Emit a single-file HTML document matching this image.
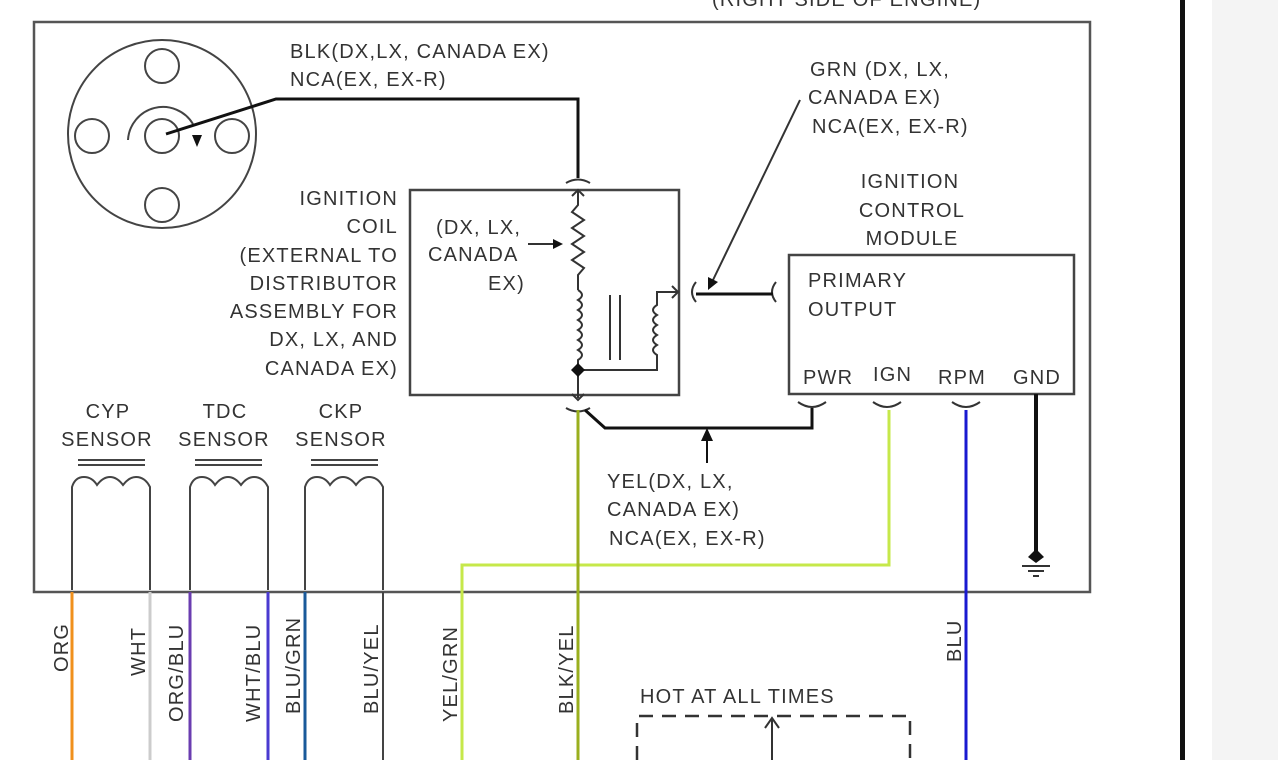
<!DOCTYPE html>
<html><head><meta charset="utf-8"><style>
html,body{margin:0;padding:0;background:#fff;}
svg{display:block;}
text{font-family:"Liberation Sans",sans-serif;font-size:20px;fill:#333;letter-spacing:1.2px;}
</style></head><body>
<svg width="1278" height="760" viewBox="0 0 1278 760">
<rect x="0" y="0" width="1278" height="760" fill="#fff"/>
<rect x="1212" y="0" width="66" height="760" fill="#f4f4f4"/>
<rect x="1180" y="0" width="5" height="760" fill="#111"/>
<text x="712" y="6">(RIGHT SIDE OF ENGINE)</text>
<rect x="34" y="22" width="1056" height="570" fill="none" stroke="#555" stroke-width="2.5"/>
<g fill="none" stroke="#444" stroke-width="2">
<circle cx="162" cy="134" r="94"/>
<circle cx="162" cy="66" r="17"/>
<circle cx="92" cy="136" r="17"/>
<circle cx="162" cy="136" r="17"/>
<circle cx="232" cy="136" r="17"/>
<circle cx="162" cy="205" r="17"/>
<path d="M128,140 A35,35 0 0 1 193,124"/>
</g>
<polygon points="192,135 202,135 197,147" fill="#111"/>
<polyline points="166,134 276,99 578,99 578,178" fill="none" stroke="#111" stroke-width="3"/>
<text x="290" y="58">BLK(DX,LX, CANADA EX)</text>
<text x="290" y="86">NCA(EX, EX-R)</text>
<rect x="410" y="190" width="269" height="205" fill="none" stroke="#444" stroke-width="2.5"/>
<g fill="none" stroke="#333" stroke-width="2">
<path d="M566,183 Q578,176 590,183"/>
<path d="M578,190 L578,205 L572,212 L584,220 L572,228 L584,236 L572,244 L584,252 L572,260 L584,268 L578,275 L578,290"/>
<path d="M572,196 L578,190 L584,196"/>
<path d="M578,290 q8,5 0,10 q8,5 0,10 q8,5 0,10 q8,5 0,10 q8,5 0,10 q8,5 0,10 q8,5 0,10 L578,398"/>
<path d="M610,295 L610,360 M620,295 L620,360"/>
<path d="M578,370 L657,370 L657,355 q-8,-5 0,-10 q-8,-5 0,-10 q-8,-5 0,-10 q-8,-5 0,-10 q-8,-5 0,-10 L657,292 L678,292"/>
<path d="M672,286 L678,292 L672,298"/>
<path d="M566,408 Q578,415 590,408"/>
<path d="M572,394 L578,400 L584,394"/>
<path d="M696,282 Q688,292 696,302"/>
<path d="M776,282 Q768,292 776,302"/>
</g>
<polygon points="578,363 585,370 578,377 571,370" fill="#111"/>
<line x1="696" y1="294" x2="773" y2="294" stroke="#111" stroke-width="3"/>
<line x1="528" y1="244" x2="556" y2="244" stroke="#333" stroke-width="2"/>
<polygon points="563,244 553,239 553,249" fill="#111"/>
<text x="436" y="234">(DX, LX,</text>
<text x="428" y="261">CANADA</text>
<text x="488" y="290">EX)</text>
<g text-anchor="end">
<text x="398" y="205">IGNITION</text>
<text x="398" y="233">COIL</text>
<text x="398" y="262">(EXTERNAL TO</text>
<text x="398" y="290">DISTRIBUTOR</text>
<text x="398" y="318">ASSEMBLY FOR</text>
<text x="398" y="346">DX, LX, AND</text>
<text x="398" y="375">CANADA EX)</text>
</g>
<line x1="800" y1="100" x2="713" y2="280" stroke="#333" stroke-width="2"/>
<polygon points="708,290 708,277 718,282" fill="#111"/>
<text x="810" y="76">GRN (DX, LX,</text>
<text x="808" y="104">CANADA EX)</text>
<text x="812" y="133">NCA(EX, EX-R)</text>
<text x="910" y="188" text-anchor="middle">IGNITION</text>
<text x="912" y="217" text-anchor="middle">CONTROL</text>
<text x="912" y="245" text-anchor="middle">MODULE</text>
<rect x="789" y="255" width="285" height="139" fill="none" stroke="#444" stroke-width="2.5"/>
<text x="808" y="287">PRIMARY</text>
<text x="808" y="316">OUTPUT</text>
<text x="803" y="384">PWR</text>
<text x="873" y="381">IGN</text>
<text x="938" y="384">RPM</text>
<text x="1013" y="384">GND</text>
<g fill="none" stroke="#333" stroke-width="2">
<path d="M798,402 Q812,412 826,402"/>
<path d="M873,402 Q887,412 901,402"/>
<path d="M952,402 Q966,412 980,402"/>
</g>
<polyline points="585,410 605,428 812,428 812,408" fill="none" stroke="#111" stroke-width="3"/>
<line x1="707" y1="463" x2="707" y2="440" stroke="#111" stroke-width="2"/>
<polygon points="707,428 701,441 713,441" fill="#111"/>
<text x="607" y="488">YEL(DX, LX,</text>
<text x="607" y="516">CANADA EX)</text>
<text x="609" y="545">NCA(EX, EX-R)</text>
<polyline points="889,410 889,565 462,565 462,760" fill="none" stroke="#c6e84a" stroke-width="3"/>
<line x1="578" y1="410" x2="578" y2="760" stroke="#9aaf1e" stroke-width="3"/>
<line x1="966" y1="410" x2="966" y2="760" stroke="#1a1ad0" stroke-width="3"/>
<line x1="1036" y1="394" x2="1036" y2="552" stroke="#111" stroke-width="4"/>
<polygon points="1036,549 1044,557 1036,563 1028,557" fill="#111"/>
<line x1="1022" y1="566" x2="1050" y2="566" stroke="#333" stroke-width="2"/>
<line x1="1028" y1="571" x2="1044" y2="571" stroke="#333" stroke-width="2"/>
<line x1="1033" y1="576" x2="1039" y2="576" stroke="#333" stroke-width="2"/>
<g text-anchor="middle">
<text x="108" y="418">CYP</text><text x="107" y="446">SENSOR</text>
<text x="225" y="418">TDC</text><text x="224" y="446">SENSOR</text>
<text x="341" y="418">CKP</text><text x="341" y="446">SENSOR</text>
</g>
<g fill="none" stroke="#444" stroke-width="2">
<path d="M78,460 H145 M78,465 H145 M195,460 H262 M195,465 H262 M311,460 H378 M311,465 H378"/>
<path d="M72,590 V487 q3,-10 12,-10 q8,0 13,8 q6,-8 13,-8 q7,0 13,8 q6,-8 13,-8 q9,0 14,10 V590"/>
<path d="M190,590 V487 q3,-10 12,-10 q8,0 13,8 q6,-8 13,-8 q7,0 13,8 q6,-8 13,-8 q9,0 14,10 V590"/>
<path d="M305,590 V487 q3,-10 12,-10 q8,0 13,8 q6,-8 13,-8 q7,0 13,8 q6,-8 13,-8 q9,0 14,10 V590"/>
</g>
<line x1="72" y1="592" x2="72" y2="760" stroke="#f0901c" stroke-width="3"/>
<line x1="150" y1="592" x2="150" y2="760" stroke="#ccc" stroke-width="3"/>
<line x1="190" y1="592" x2="190" y2="760" stroke="#6a3cb0" stroke-width="3"/>
<line x1="268" y1="592" x2="268" y2="760" stroke="#4a3ad0" stroke-width="3"/>
<line x1="305" y1="592" x2="305" y2="760" stroke="#1a5a9a" stroke-width="3"/>
<line x1="383" y1="592" x2="383" y2="760" stroke="#444" stroke-width="2"/>
<g>
<text transform="translate(68,672) rotate(-90)">ORG</text>
<text transform="translate(145,676) rotate(-90)">WHT</text>
<text transform="translate(183,722) rotate(-90)">ORG/BLU</text>
<text transform="translate(260,722) rotate(-90)">WHT/BLU</text>
<text transform="translate(300,714) rotate(-90)">BLU/GRN</text>
<text transform="translate(378,714) rotate(-90)">BLU/YEL</text>
<text transform="translate(457,722) rotate(-90)">YEL/GRN</text>
<text transform="translate(573,714) rotate(-90)">BLK/YEL</text>
<text transform="translate(961,662) rotate(-90)">BLU</text>
</g>
<text x="640" y="703">HOT AT ALL TIMES</text>
<polyline points="637,760 637,716 910,716 910,760" fill="none" stroke="#333" stroke-width="2.5" stroke-dasharray="14,9"/>
<line x1="772" y1="720" x2="772" y2="760" stroke="#333" stroke-width="2"/>
<polyline points="765,728 772,718 779,728" fill="none" stroke="#333" stroke-width="2"/>
</svg>
</body></html>
